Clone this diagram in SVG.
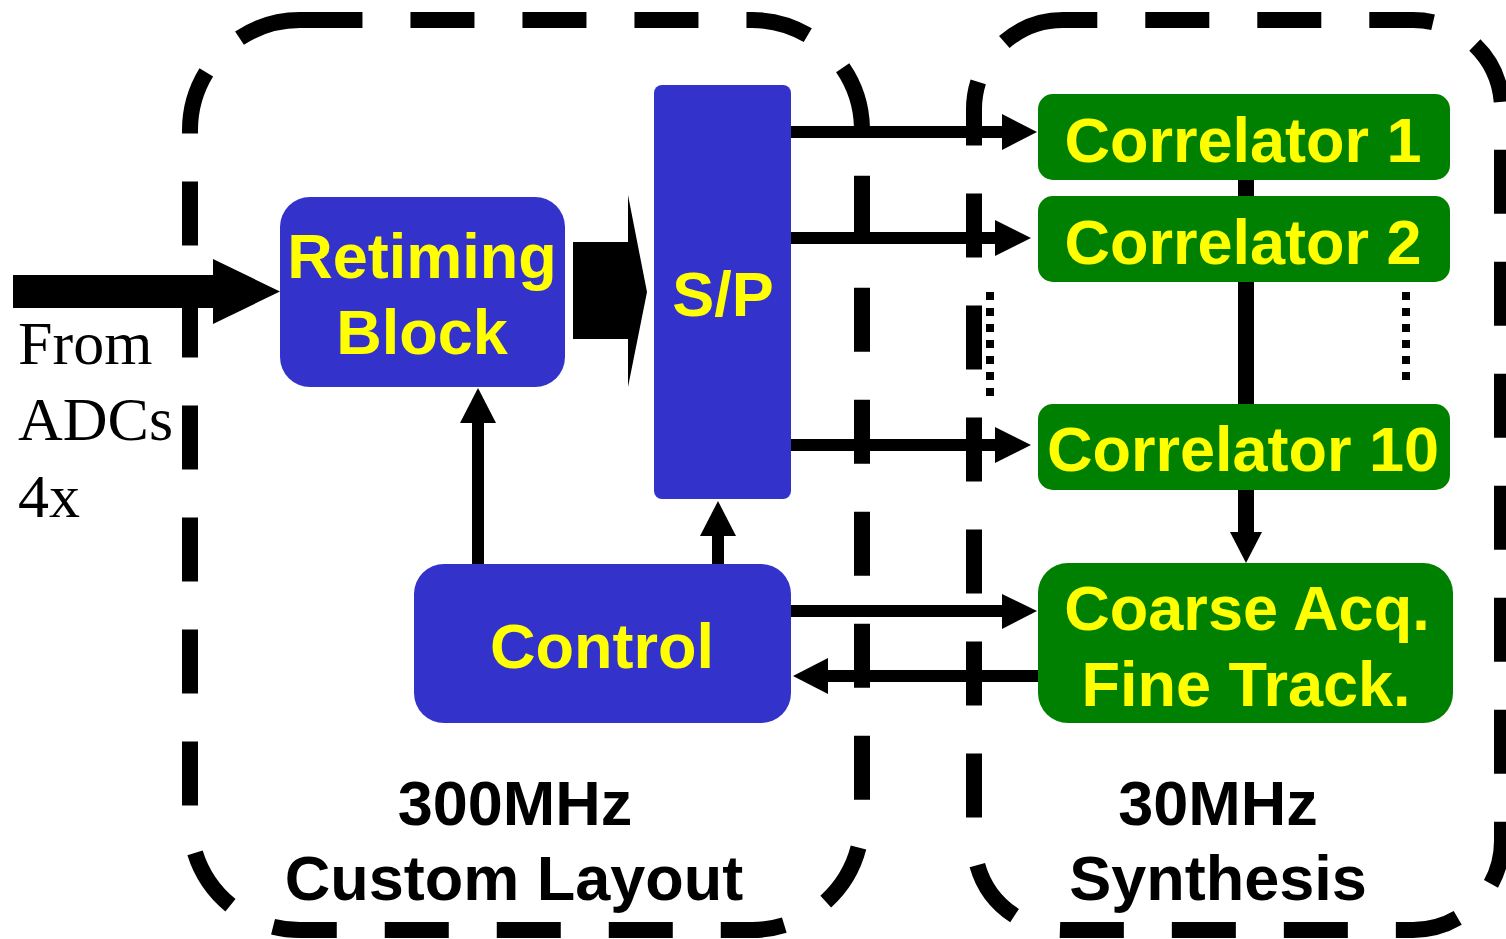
<svg xmlns="http://www.w3.org/2000/svg" width="1506" height="939" viewBox="0 0 1506 939">
<style>
.zone{fill:none;stroke:#000;stroke-width:16;stroke-dasharray:64 48}
.blue{fill:#3333CC}
.green{fill:#008000}
.lbl{font-family:"Liberation Sans",Arial,sans-serif;font-weight:bold;font-size:63px;fill:#FFFF00;text-anchor:middle}
.cap{font-family:"Liberation Sans",Arial,sans-serif;font-weight:bold;font-size:63px;fill:#000;text-anchor:middle}
.src{font-family:"Liberation Serif","Times New Roman",serif;font-size:62px;fill:#000}
.ln{stroke:#000;stroke-width:12;fill:none}
.dot{stroke:#000;stroke-width:8;stroke-dasharray:8 8;fill:none}
</style>
<g id="zone-300MHz">
<path class="zone" d="M300,20 A110,110 0 0 0 190,130 V820 A110,110 0 0 0 300,930 H752 A110,110 0 0 0 862,820 V130 A110,110 0 0 0 752,20 Z"/>
<text class="cap" x="515" y="825">300MHz</text>
<text class="cap" x="514" y="900">Custom Layout</text>
</g>
<g id="zone-30MHz">
<path class="zone" d="M1063,20 A89,89 0 0 0 974,109 V841 A89,89 0 0 0 1063,930 H1413 A89,89 0 0 0 1502,841 V109 A89,89 0 0 0 1413,20 Z"/>
<text class="cap" x="1218" y="825">30MHz</text>
<text class="cap" x="1218" y="900">Synthesis</text>
</g>
<g id="input">
<text class="src" x="18" y="364">From</text>
<text class="src" x="18" y="440">ADCs</text>
<text class="src" x="18" y="517">4x</text>
</g>
<g id="connectors">
<polygon points="13,275 213,275 213,259 280,291.5 213,324 213,308 13,308"/>
<polygon points="573,242 628,242 628,195 647,292 628,387 628,339 573,339"/>
<line class="ln" x1="791" y1="132" x2="1004" y2="132"/>
<polygon points="1002,114 1037,132 1002,150"/>
<line class="ln" x1="791" y1="238" x2="997" y2="238"/>
<polygon points="995,220 1031,238 995,256"/>
<line class="ln" x1="791" y1="445" x2="997" y2="445"/>
<polygon points="995,427 1031,445 995,463"/>
<line class="ln" x1="791" y1="611" x2="1004" y2="611"/>
<polygon points="1002,594 1037,611 1002,629"/>
<line class="ln" x1="1038" y1="676" x2="826" y2="676"/>
<polygon points="828,658 793,676 828,694"/>
<line class="ln" x1="478" y1="564" x2="478" y2="421"/>
<polygon points="460,423 478,388 496,423"/>
<line class="ln" x1="718" y1="564" x2="718" y2="534"/>
<polygon points="700,536 718,501 736,536"/>
<line x1="1246" y1="170" x2="1246" y2="414" stroke="#000" stroke-width="16"/>
<line x1="1246" y1="480" x2="1246" y2="534" stroke="#000" stroke-width="16"/>
<polygon points="1230,532 1246,563 1262,532"/>
<line class="dot" x1="990" y1="292" x2="990" y2="396"/>
<line class="dot" x1="1406" y1="292" x2="1406" y2="380"/>
</g>
<g id="retiming">
<rect class="blue" x="280" y="197" width="285" height="190" rx="30"/>
<text class="lbl" x="422" y="278">Retiming</text>
<text class="lbl" x="422" y="354">Block</text>
</g>
<g id="sp">
<rect class="blue" x="654" y="85" width="137" height="414" rx="8"/>
<text class="lbl" x="723" y="316">S/P</text>
</g>
<g id="control">
<rect class="blue" x="414" y="564" width="377" height="159" rx="30"/>
<text class="lbl" x="602" y="668">Control</text>
</g>
<g id="correlator1">
<rect class="green" x="1038" y="94" width="412" height="86" rx="15"/>
<text class="lbl" x="1243" y="162">Correlator 1</text>
</g>
<g id="correlator2">
<rect class="green" x="1038" y="196" width="412" height="86" rx="15"/>
<text class="lbl" x="1243" y="264">Correlator 2</text>
</g>
<g id="correlator10">
<rect class="green" x="1038" y="404" width="412" height="86" rx="15"/>
<text class="lbl" x="1243" y="471">Correlator 10</text>
</g>
<g id="acq">
<rect class="green" x="1038" y="563" width="415" height="160" rx="30"/>
<text class="lbl" x="1247" y="630">Coarse Acq.</text>
<text class="lbl" x="1246" y="706">Fine Track.</text>
</g>
</svg>
